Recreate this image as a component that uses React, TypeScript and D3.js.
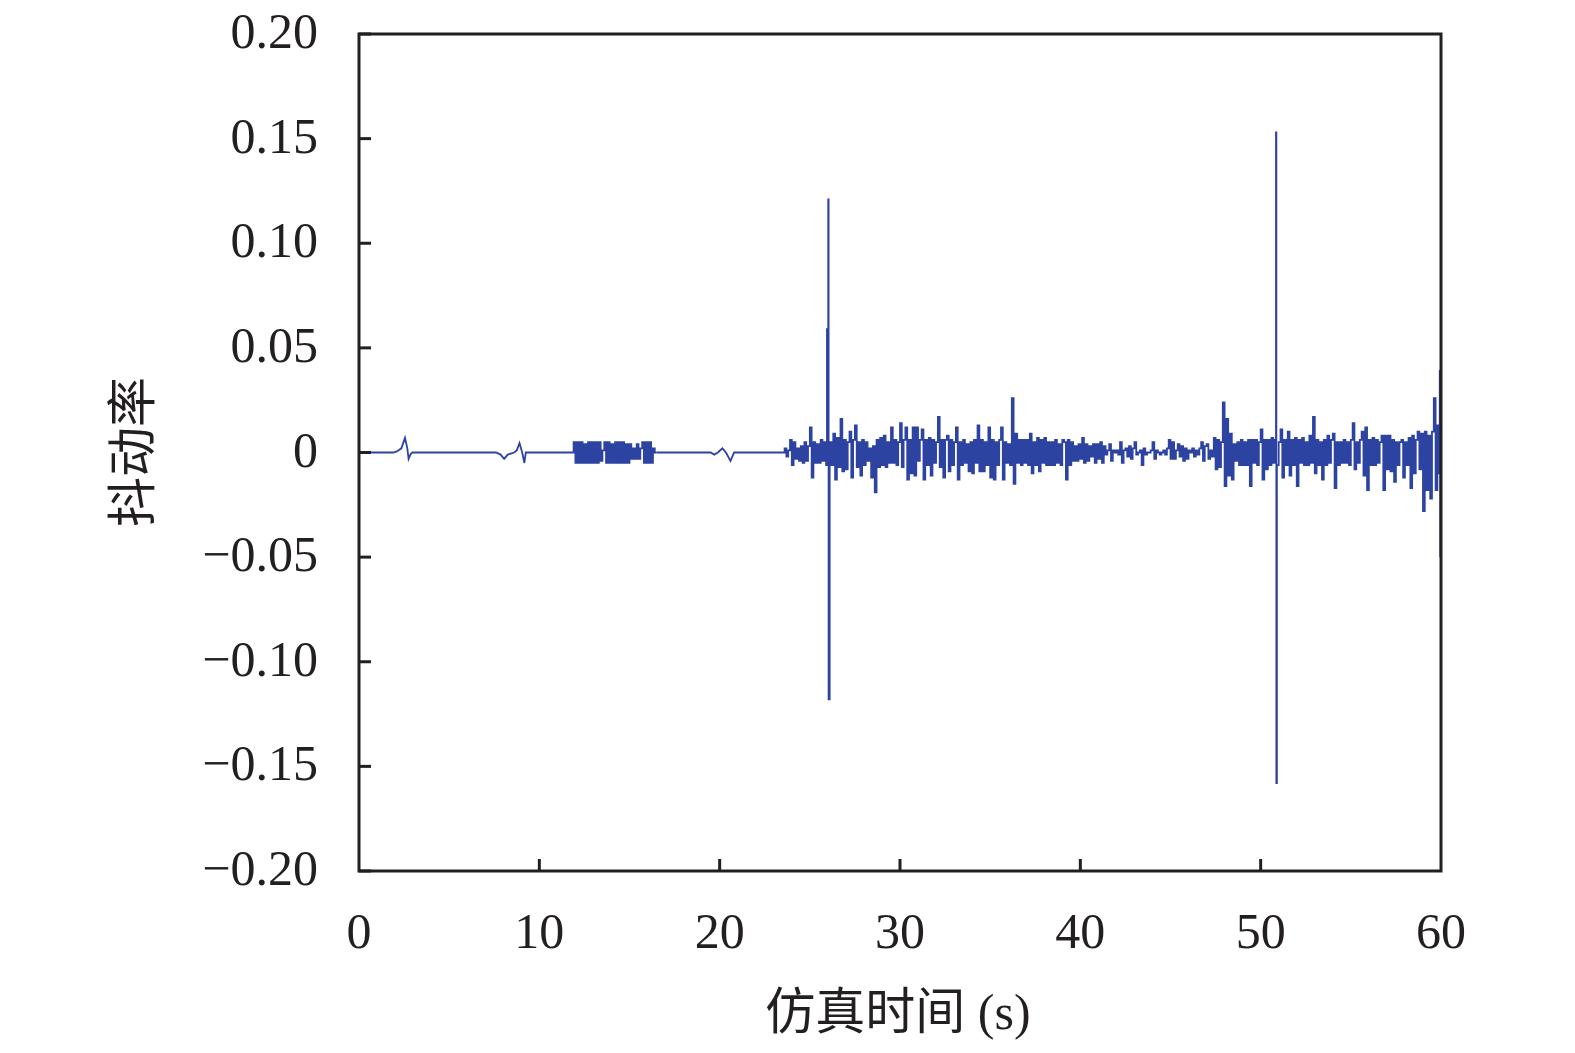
import { useEffect, useRef } from 'react'
import * as d3 from 'd3'

// all signal values are in units of 0.001
const quietPoints: [number, number][] = [
  [0, 0], [1.9, 0], [2.1, 0.5], [2.35, 2], [2.55, 7], [2.68, 2], [2.75, -3], [2.85, -1], [2.95, 0],
  [7.6, 0], [7.85, -1], [8.05, -3], [8.25, -1], [8.6, 0], [8.75, 1], [8.9, 4.5], [9.05, 0], [9.17, -5], [9.25, 0],
  [11.7, 0],
  [16.5, 0], [19.5, 0], [19.7, -1], [19.9, 0], [20.15, 2], [20.35, 0], [20.6, -4], [20.8, 0],
  [23.4, 0],
]

const blockStart = 11.8
const blockValues = [
  0, 5, -5, 5, -5, 5, -5, 4, -5, 5,
  -5, 5, -5, 5, -5, 5, -4, 1, 5, -5,
  5, -5, 4, -5, 5, -5, 5, -5, 5, -5,
  4, -5, 4, -3, 2, -3, 4, -3, 2, 5,
  -5, 5, -5, 5, -5, 2, 0,
]

const noiseStart = 23.5
const noiseValues = [
  0, 2, -2, 1, 6, -6, 5, -3, 2, -4,
  3, -5, 5, -4, 3, 12, -12, 5, -5, 4,
  -5, 6, -4, 5, -6, 4, 5, -6, 9, -13,
  7, -7, 16, -9, 6, -8, 5, 10, -12, 6,
  13, -7, 5, -11, 6, -6, 5, -4, 2, -12,
  3, -19, 6, -7, 7, -6, 8, -7, 5, -5,
  12, -5, 6, -6, 5, 14, -7, 6, 12, -13,
  6, -10, 12, -11, 12, -4, 6, 11, -13, 6,
  -6, 7, -11, 6, -5, 5, 17, -7, 6, -12,
  6, 8, -9, 6, -6, 5, 12, -13, 5, -6,
  6, -5, 4, -9, 5, -10, 6, -5, 13, -9,
  6, -9, 5, -6, 12, -12, 6, -13, 5, -6,
  6, 12, -13, 5, -5, 4, -6, 26, -15, 9,
  -5, 6, -6, 6, -5, 6, -6, 9, -10, 5,
  -6, 7, -9, 6, -5, 7, -6, 5, -6, 5,
  -6, 6, -5, 4, -6, 6, 5, -13, 6, -6,
  5, -4, 3, -4, 4, -3, 7, -5, 4, -4,
  3, -2, 4, -5, 4, -3, 5, -5, 3, -1,
  1, 4, -4, 1, 0, 1, -1, 5, -5, 1,
  2, -2, 3, -3, 2, 5, -1, 0, 1, -6,
  2, -1, 0, 0, 1, 5, -3, 1, 0, -1,
  0, 1, -1, 2, 6, -3, 5, -3, 1, 4,
  -2, 3, -4, 2, -3, 1, 0, 2, -2, 1,
  -1, 2, 5, -4, 3, 4, -3, 1, -2, 7,
  -8, 6, -7, 5, 24, -16, 16, -11, 9, -13,
  4, -4, 5, -6, 6, -6, 5, -6, 6, -16,
  6, -5, 6, -6, 5, 11, -13, 6, -8, 6,
  -6, 7, -5, 6, -6, 5, 11, -12, 6, -6,
  10, -11, 6, -6, 7, -16, 6, -5, 7, -6,
  5, -6, 8, -5, 17, -10, 6, -6, 5, -13,
  6, -6, 8, -5, 6, 9, -17, 5, -6, 5,
  -5, 6, -5, 5, -6, 6, 14, -8, 5, -5,
  6, 10, -11, 12, -18, 6, -6, 7, -6, 6,
  -5, 5, 8, -18, 8, -8, 8, -9, 6, -14,
  5, -6, 5, 6, -12, 5, -6, 7, -17, 8,
  -10, 6, 10, -8, 9, -28, 10, -18, 8, -22,
  10, 26, -18, 13, -10,
]

const spikes: [number, number][] = [
  [25.95, 59], [25.97, 3], [26.02, 121], [26.04, -118],
  [50.85, 153], [50.87, -158],
  [59.93, 39], [59.96, -50],
]

const xTicks = [0, 10, 20, 30, 40, 50, 60]
const yTicks = [0.2, 0.15, 0.1, 0.05, 0, -0.05, -0.1, -0.15, -0.2]
const yTickLabels = ['0.20', '0.15', '0.10', '0.05', '0', '\u22120.05', '\u22120.10', '\u22120.15', '\u22120.20']

export default function App() {
  const svgRef = useRef<SVGSVGElement | null>(null)

  useEffect(() => {
    if (!svgRef.current) return
    const svg = d3.select(svgRef.current)
    svg.selectAll('*').remove()

    const width = 1575
    const height = 1053
    const left = 359
    const right = 1441
    const top = 34
    const bottom = 871
    const ink = '#231f20'
    const serif = "'Liberation Serif', 'Times New Roman', serif"
    const cjk = "'Liberation Serif', 'Noto Sans CJK SC', serif"

    svg.attr('width', width).attr('height', height)

    const x = d3.scaleLinear().domain([0, 60]).range([left, right])
    const y = d3.scaleLinear().domain([-0.2, 0.2]).range([bottom, top])

    const smooth: [number, number][] = quietPoints.filter(p => p[0] <= 11.7 || (p[0] >= 16.5 && p[0] <= 23.4))
    const noisy: [number, number][] = []
    noisy.push([11.7, 0])
    blockValues.forEach((v, i) => noisy.push([+(blockStart + i * 0.1).toFixed(2), v]))
    noisy.push([16.5, 0])

    const tail: [number, number][] = [[23.4, 0]]
    noiseValues.forEach((v, i) => tail.push([+(noiseStart + i * 0.1).toFixed(2), v]))
    spikes.forEach(p => tail.push([p[0], p[1]]))
    tail.sort((a, b) => a[0] - b[0])

    const lineSmooth = d3.line<[number, number]>()
      .x(d => x(d[0]))
      .y(d => y(d[1] / 1000))
    const lineStep = d3.line<[number, number]>()
      .x(d => x(d[0]))
      .y(d => y(d[1] / 1000))
      .curve(d3.curveStepAfter)

    const g = svg.append('g')
      .attr('fill', 'none')
      .attr('stroke', '#2d43a2')
      .attr('stroke-width', 1.8)

    g.append('path').attr('d', lineSmooth(smooth.filter(p => p[0] <= 11.7)))
    g.append('path').attr('d', lineStep(noisy))
    g.append('path').attr('d', lineSmooth(smooth.filter(p => p[0] >= 16.5)))
    g.append('path').attr('d', lineStep(tail))

    // frame
    svg.append('rect')
      .attr('x', left).attr('y', top)
      .attr('width', right - left).attr('height', bottom - top)
      .attr('fill', 'none').attr('stroke', ink).attr('stroke-width', 3)

    // x ticks (inward)
    const gx = svg.append('g')
    gx.selectAll('line').data(xTicks.slice(1, -1)).enter().append('line')
      .attr('x1', d => x(d)).attr('x2', d => x(d))
      .attr('y1', bottom).attr('y2', bottom - 12)
      .attr('stroke', ink).attr('stroke-width', 3)
    gx.selectAll('text').data(xTicks).enter().append('text')
      .attr('x', d => x(d)).attr('y', 948)
      .attr('text-anchor', 'middle')
      .style('font-family', serif).style('font-size', '50px').style('fill', ink)
      .text(d => String(d))

    // y ticks (inward)
    const gy = svg.append('g')
    gy.selectAll('line').data(yTicks).enter().append('line')
      .attr('x1', left).attr('x2', left + 12)
      .attr('y1', d => y(d)).attr('y2', d => y(d))
      .attr('stroke', ink).attr('stroke-width', 3)
    gy.selectAll('text').data(yTicks).enter().append('text')
      .attr('x', 318).attr('y', d => y(d) + 14)
      .attr('text-anchor', 'end')
      .style('font-family', serif).style('font-size', '50px').style('fill', ink)
      .text((d, i) => yTickLabels[i])

    // axis titles
    svg.append('text')
      .attr('x', 898).attr('y', 1029)
      .attr('text-anchor', 'middle')
      .style('font-family', cjk).style('font-size', '50px').style('fill', ink)
      .text('仿真时间 (s)')

    svg.append('text')
      .attr('transform', 'translate(133,452) rotate(-90)')
      .attr('text-anchor', 'middle')
      .attr('dominant-baseline', 'central')
      .style('font-family', cjk).style('font-size', '50px').style('fill', ink)
      .text('抖动率')
  }, [])

  return (
    <div style={{ position: 'absolute', left: 0, top: 0 }}>
      <svg ref={svgRef}></svg>
    </div>
  )
}
